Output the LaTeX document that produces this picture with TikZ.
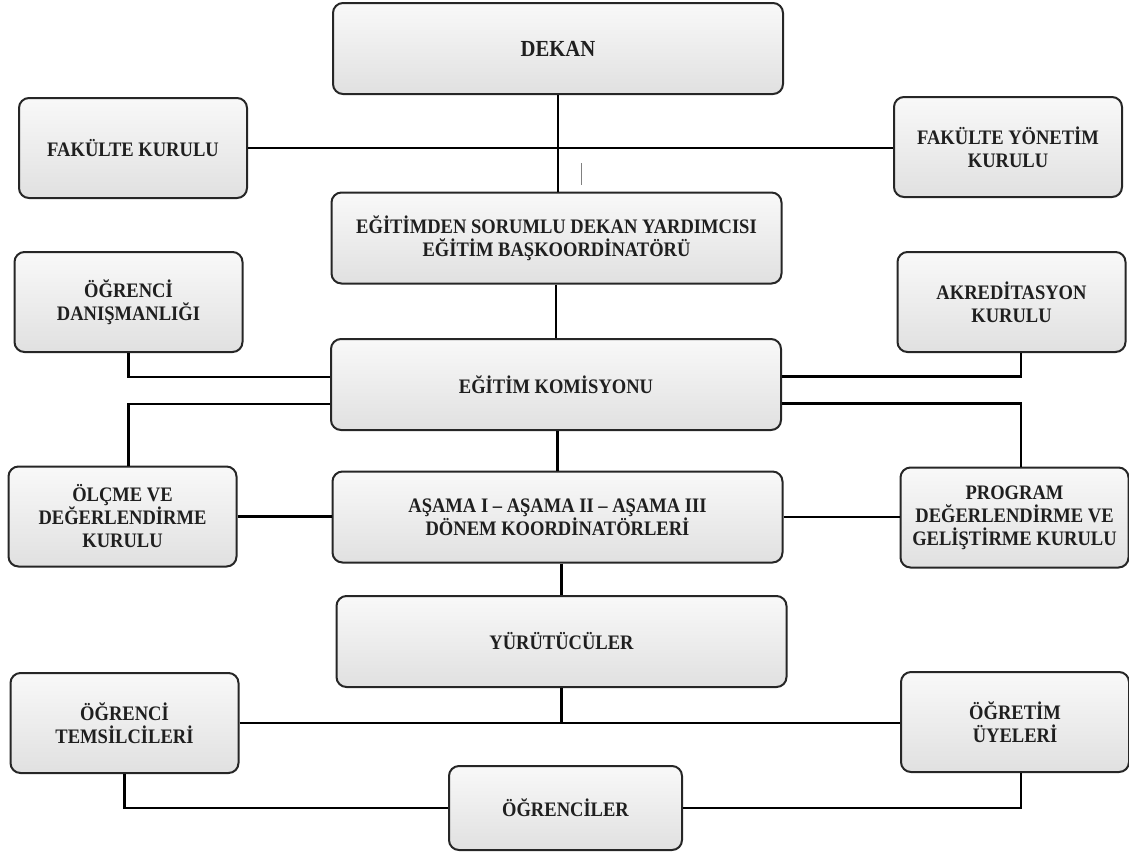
\documentclass[tikz,border=0pt]{standalone}
\usepackage{fontspec}
\setmainfont{Liberation Serif}[FakeStretch=0.9]
\usepackage{tikz}
\usetikzlibrary{shapes,backgrounds}
\definecolor{boxgray}{gray}{0.88}
\definecolor{inkgray}{gray}{0.12}

\begin{document}
\begin{tikzpicture}
	[x=0.5pt,y=-0.5pt,
	every node/.style={font=\bfseries\fontsize{10.3}{11.5}\selectfont,text=inkgray,align=center},
	unit/.style={draw=black!85,line width=1pt,rounded corners=5pt,top color=gray!5,bottom color=boxgray,inner sep=2pt},
	wide/.style={unit,minimum width=225pt,minimum height=45.5pt},
	side/.style={unit,minimum width=114pt,minimum height=50pt},
	link/.style={draw,line width=1.2pt}]
	\useasboundingbox (0,0) rectangle (1129,852);
	\node[wide,font=\bfseries\fontsize{11.5}{13}\selectfont] (dekan) at (558,48.5) {DEKAN};
	\node[side] (fk) at (133,148) {FAKÜLTE KURULU};
	\node[side] (fyk) at (1008,147) {FAKÜLTE YÖNETİM\\KURULU};
	\node[wide] (egy) at (556.5,238) {EĞİTİMDEN SORUMLU DEKAN YARDIMCISI\\EĞİTİM BAŞKOORDİNATÖRÜ};
	\node[side] (od) at (128.5,302) {ÖĞRENCİ\\DANIŞMANLIĞI};
	\node[side] (ak) at (1011.5,302) {AKREDİTASYON\\KURULU};
	\node[wide] (ek) at (556,384.5) {EĞİTİM KOMİSYONU};
	\node[side] (olcme) at (122.5,516.5) {ÖLÇME VE\\DEĞERLENDİRME\\KURULU};
	\node[wide] (asama) at (557.5,517) {AŞAMA I -- AŞAMA II -- AŞAMA III\\DÖNEM KOORDİNATÖRLERİ};
	\node[side] (prog) at (1014.5,517.5) {PROGRAM\\DEĞERLENDİRME VE\\GELİŞTİRME KURULU};
	\node[wide] (yur) at (561.5,641.5) {YÜRÜTÜCÜLER};
	\node[side] (ot) at (124.5,723) {ÖĞRENCİ\\TEMSİLCİLERİ};
	\node[side] (ou) at (1015,722) {ÖĞRETİM\\ÜYELERİ};
	\node[unit,minimum width=116.5pt,minimum height=42pt] (ogr) at (565.5,808) {ÖĞRENCİLER};
	\draw[link] (dekan.south) -- (dekan.south |- egy.north);
	\draw[link] (fk.east) -- (fk.east -| fyk.west);
	\draw[gray,line width=0.4pt] (581,163) -- (581,185);
	\draw[link] (ek.north |- egy.south) -- (ek.north);
	\draw[link] (od.south) |- ([yshift=3.75pt]ek.west);
	\draw[link] ([yshift=-9.75pt]ek.west) -| (od.south |- olcme.north);
	\draw[link] ([xshift=4.75pt]ak.south) |- ([yshift=4pt]ek.east);
	\draw[link] ([yshift=-9.5pt]ek.east) -| ([xshift=3.25pt]prog.north);
	\draw[link] (asama.north |- ek.south) -- (asama.north);
	\draw[link] (olcme.east) -- (olcme.east -| asama.west);
	\draw[link] (asama.east) -- (asama.east -| prog.west);
	\draw[link] (yur.north |- asama.south) -- (yur.north);
	\draw[link] (yur.south) -- (yur.south |- ot.east);
	\draw[link] (ot.east) -- (ot.east -| ou.west);
	\draw[link] (ot.south) |- (ogr.west);
	\draw[link] ([xshift=3pt]ou.south) |- (ogr.east);
\end{tikzpicture}
\end{document}
